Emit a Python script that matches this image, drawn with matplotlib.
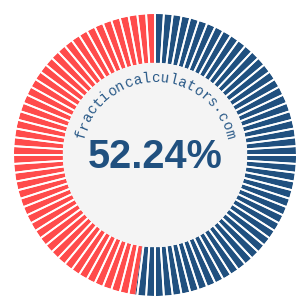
import numpy as np
import matplotlib
matplotlib.use("Agg")
import matplotlib.pyplot as plt

# data
percent = 52.24
shares = [percent, 100 - percent]
share_colors = ["#20507f", "#ff4b4b"]
n_steps = 100
label = f"{percent:.2f}%"
site = "fractioncalculators.com"

cx, cy = 155, 150   # y measured upwards
r_out, r_in = 141, 92

fig = plt.figure(figsize=(3.05, 3.05), dpi=100)
ax = fig.add_axes([0, 0, 1, 1])

# coloured ring
ax.pie(shares, colors=share_colors, startangle=90, counterclock=False,
       radius=r_out, center=(cx, cy), frame=True,
       wedgeprops=dict(width=r_out - r_in, linewidth=0))
# white separators every 1%
ax.pie([1] * n_steps, colors=["none"] * n_steps, startangle=90, counterclock=False,
       radius=r_out + 1, center=(cx, cy), frame=True,
       wedgeprops=dict(width=r_out - r_in + 2, edgecolor="white", linewidth=1.3))
# inner disc
ax.add_patch(plt.Circle((cx, cy), r_in - 0.5, color="#f4f4f4", zorder=3))
ax.set_xlim(0, 305)
ax.set_ylim(0, 305)
ax.set_aspect("equal")
ax.axis("off")

ax.text(cx, cy - 13.5, label, ha="center", va="baseline", fontsize=28.5,
        fontweight="bold", family="Liberation Sans", color="#20507f", zorder=5)

# curved site name
fs = 10.3
r_txt = 73
adv = 0.6 * fs * 100 / 72
step = np.degrees(adv / r_txt)
n = len(site)
for i, ch in enumerate(site):
    a = (i - (n - 1) / 2) * step  # degrees clockwise from top
    t = np.radians(a)
    x = cx + r_txt * np.sin(t)
    y = cy + r_txt * np.cos(t)
    ax.text(x, y, ch, ha="center", va="baseline", rotation=-a,
            rotation_mode="anchor", fontsize=fs, family="Liberation Mono",
            color="#2a5a88", zorder=5)

fig.savefig("out.png", dpi=100, facecolor="white")
